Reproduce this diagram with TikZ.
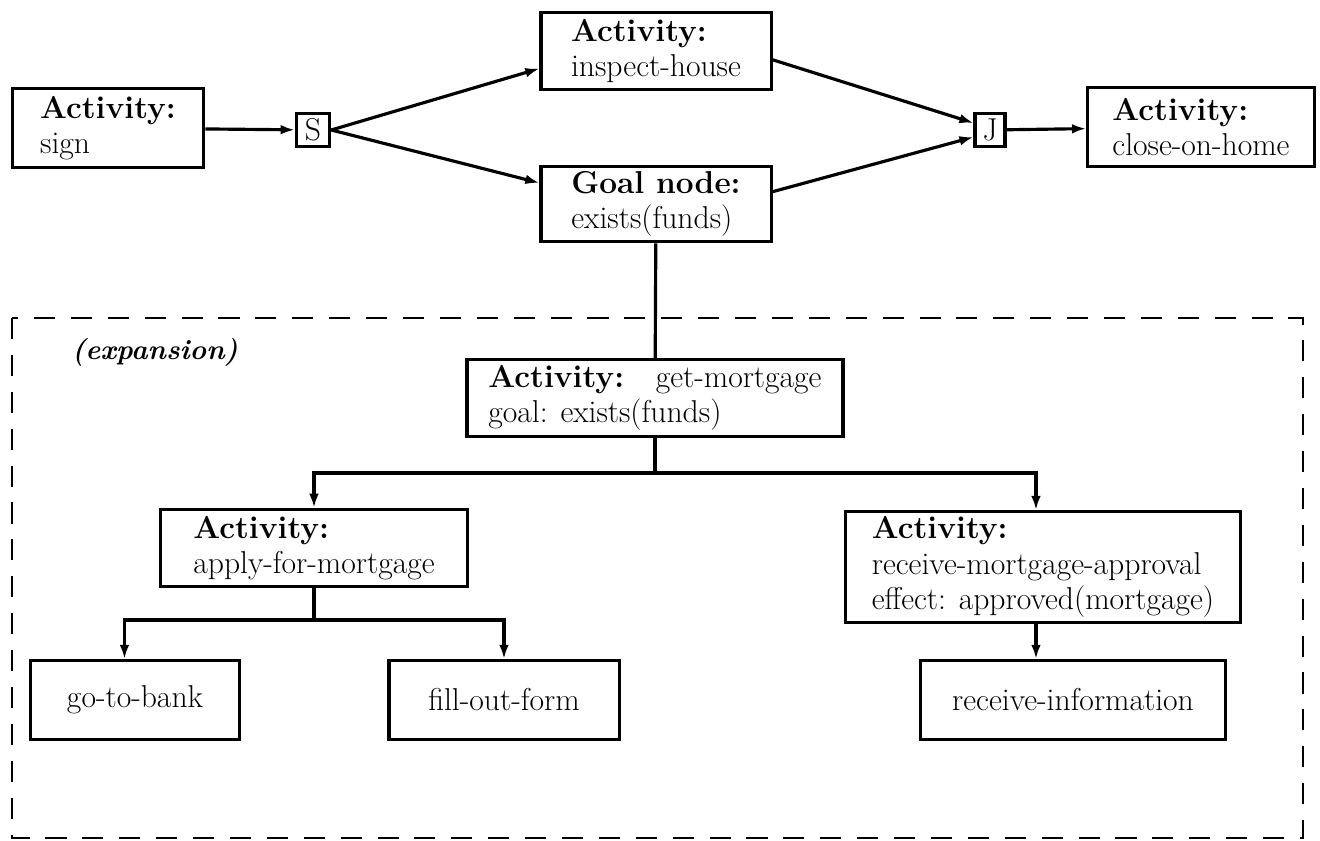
\documentclass[tikz,border=0pt]{standalone}
\usepackage{tikz}
\usetikzlibrary{arrows.meta}

\begin{document}
\begin{tikzpicture}[x=0.02cm,y=-0.02cm,
    every node/.style={font=\fontsize{18}{20}\selectfont},
    box/.style={draw,line width=1.8pt,align=left,inner xsep=5pt,inner ysep=3pt},
    gate/.style={draw,line width=1.8pt,inner sep=1pt,minimum height=19pt},
    arr/.style={-{Latex[length=8pt,width=5.5pt]},line width=1.8pt},
    link/.style={line width=1.8pt}]
  \useasboundingbox (0,0) rectangle (1320,841);

  % top level plan
  \node[box,minimum width=109pt,minimum height=45pt] (sign) at (108,128) {\textbf{Activity:}\\sign};
  \node[gate,minimum width=19pt] (S) at (313,130) {S};
  \node[box,minimum width=131pt,minimum height=44pt] (inspect) at (656,51) {\textbf{Activity:}\\inspect-house};
  \node[box,minimum width=131pt,minimum height=42pt] (goal) at (656,204) {\textbf{Goal node:}\\exists(funds)};
  \node[gate,minimum width=17pt] (J) at (990,130) {J};
  \node[box,minimum width=129pt,minimum height=45pt] (close) at (1201,127) {\textbf{Activity:}\\close-on-home};

  \draw[arr] (sign) -- (S);
  \draw[arr] (S.east) -- ([yshift=-10pt]inspect.west);
  \draw[arr] (S.east) -- ([yshift=12pt]goal.west);
  \draw[arr] ([yshift=-5pt]inspect.east) -- ([yshift=4pt]J.west);
  \draw[arr] ([yshift=7pt]goal.east) -- ([yshift=-4pt]J.west);
  \draw[arr] (J) -- (close);

  % expansion of the goal node
  \draw[line width=1.6pt,dash pattern=on 12pt off 9pt] (12,318) rectangle (1303,838);
  \node[font=\fontsize{16}{18}\selectfont] (expansion) at (155,352) {\textbf{\textit{(expansion)}}};

  \node[box,minimum width=214pt,minimum height=44pt] (getm) at (655,398) {\textbf{Activity:}\quad get-mortgage\\goal: exists(funds)};
  \node[box,minimum width=175pt,minimum height=44pt] (apply) at (314,548) {\textbf{Activity:}\\apply-for-mortgage};
  \node[box,minimum width=225pt,minimum height=63pt] (receive) at (1043,567) {\textbf{Activity:}\\receive-mortgage-approval\\effect: approved(mortgage)};
  \node[box,minimum width=119pt,minimum height=45pt] (bank) at (135,700) {go-to-bank};
  \node[box,minimum width=131pt,minimum height=45pt] (form) at (504,700) {fill-out-form};
  \node[box,minimum width=174pt,minimum height=45pt] (info) at (1073,700) {receive-information};

  \draw[link] (goal) -- (getm);
  \coordinate (fork1) at (655,473);
  \coordinate (fork2) at (314,620);
  \draw[link] (getm) -- (fork1);
  \draw[arr] (fork1) -| (apply);
  \draw[arr] (fork1) -| ([xshift=-4pt]receive.north);
  \draw[link] (apply) -- (fork2);
  \draw[arr] (fork2) -| ([xshift=-6pt]bank.north);
  \draw[arr] (fork2) -| (form);
  \draw[arr] ([xshift=-4pt]receive.south) -- ([xshift=-4pt]receive.south |- info.north);
\end{tikzpicture}
\end{document}
